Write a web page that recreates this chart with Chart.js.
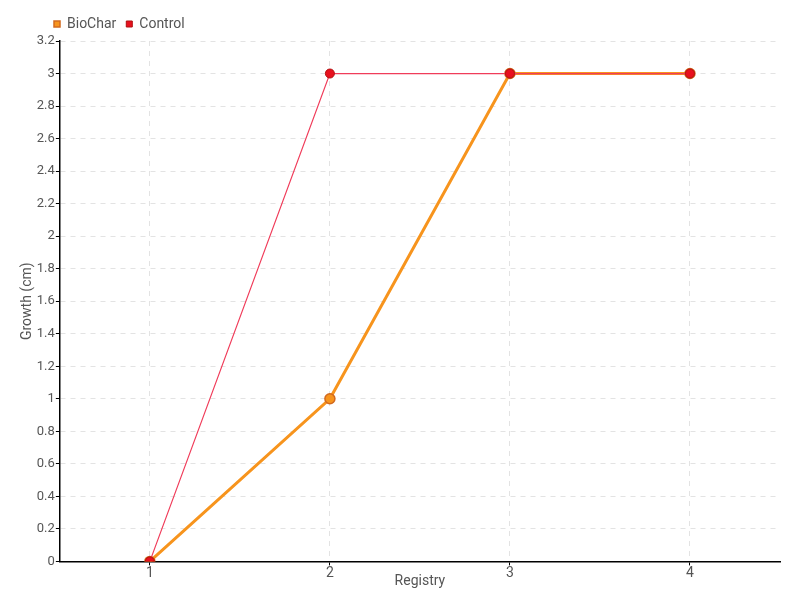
<!DOCTYPE html>
<html>
<head>
<meta charset="utf-8">
<script src="https://cdn.jsdelivr.net/npm/chart.js@4"></script>
<style>
  html, body { margin: 0; padding: 0; background: #fff; }
  #wrap { width: 800px; height: 600px; }
</style>
</head>
<body>
<div id="wrap"><canvas id="grafico"></canvas></div>
<script>
const registros = ["1", "2", "3", "4"];
const bioChar = [0, 1, 3, 3];
const controle = [0, 3, 3, 3];

Chart.defaults.font.family = 'Roboto, "Liberation Sans", sans-serif';
Chart.defaults.font.size = 14;
Chart.defaults.color = "#555";

const grade = {
    color: "#e3e3e3",
    tickColor: "#000",
    tickLength: 4,
    drawTicks: true
};

// empurra a legenda para a direita sem mexer na area do grafico
const deslocaLegenda = {
    id: "deslocaLegenda",
    afterLayout(chart) {
        chart.legend.left += 25;
        chart.legend.right += 25;
    }
};

new Chart(document.getElementById("grafico"), {
    type: "line",
    data: {
        labels: registros,
        datasets: [
            {
                label: "BioChar",
                data: bioChar,
                borderColor: "#f7941d",
                backgroundColor: "#f7941d",
                borderWidth: 3,
                pointRadius: 5,
                pointBorderWidth: 1.5,
                pointBorderColor: "#d2691e",
                pointBackgroundColor: "#f7941d",
                tension: 0,
                order: 1
            },
            {
                label: "Control",
                data: controle,
                borderColor: "#f03c5a",
                backgroundColor: "#e8101e",
                borderWidth: 1.2,
                pointRadius: 4.5,
                pointBorderWidth: 1,
                pointBorderColor: "#b01010",
                pointBackgroundColor: "#e8101e",
                tension: 0,
                order: 0
            }
        ]
    },
    options: {
        animation: false,
        responsive: true,
        maintainAspectRatio: false,
        layout: { padding: { top: 7, right: 20, left: 19, bottom: 10 } },
        plugins: {
            legend: {
                position: "top",
                align: "start",
                labels: {
                    usePointStyle: true,
                    pointStyle: "rect",
                    boxWidth: 6,
                    boxHeight: 6,
                    padding: 10,
                    color: "#555",
                    font: { size: 14 },
                    sort: (a, b) => a.datasetIndex - b.datasetIndex
                }
            },
            tooltip: { enabled: false }
        },
        scales: {
            x: {
                offset: true,
                grid: Object.assign({ offset: false }, grade),
                border: { color: "#000", width: 1.5, dash: [5, 5] },
                title: { display: true, text: "Registry", padding: { top: -9, bottom: 0 } },
                ticks: { padding: 0 }
            },
            y: {
                min: 0,
                max: 3.2,
                grid: Object.assign({}, grade),
                border: { color: "#000", width: 1.5, dash: [5, 5] },
                title: { display: true, text: "Growth (cm)", padding: 0 },
                ticks: {
                    stepSize: 0.2,
                    padding: 1,
                    font: { size: 13 },
                    callback: v => String(Math.round(v * 10) / 10)
                }
            }
        }
    },
    plugins: [deslocaLegenda]
});
</script>
</body>
</html>
